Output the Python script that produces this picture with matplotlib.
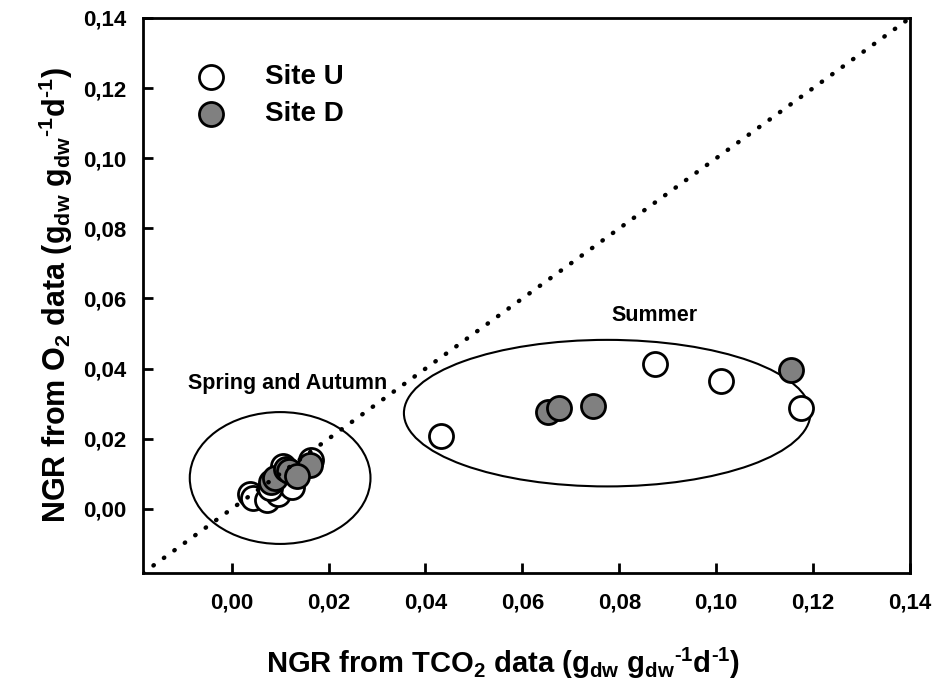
import numpy as np
import matplotlib.pyplot as plt
from matplotlib.patches import Ellipse

plt.rcParams['font.family'] = ['Liberation Sans', 'DejaVu Sans']
plt.rcParams['font.weight'] = 'bold'
plt.rcParams['mathtext.fontset'] = 'custom'
plt.rcParams['mathtext.rm'] = 'Liberation Sans:bold'
plt.rcParams['mathtext.bf'] = 'Liberation Sans:bold'
plt.rcParams['mathtext.it'] = 'Liberation Sans:bold'
plt.rcParams['mathtext.default'] = 'bf'

# NGR from TCO2 (x) vs NGR from O2 (y)
site_u_x = [0.0037, 0.0045, 0.0072, 0.0095, 0.0125, 0.0163, 0.0105, 0.0080,
            0.0432, 0.0874, 0.1010, 0.1175]
site_u_y = [0.0043, 0.0030, 0.0024, 0.0043, 0.0062, 0.0138, 0.0122, 0.0060,
            0.0209, 0.0413, 0.0365, 0.0289]
site_d_x = [0.0082, 0.0090, 0.0112, 0.0118, 0.0162, 0.0135,
            0.0652, 0.0676, 0.0745, 0.1155]
site_d_y = [0.0078, 0.0088, 0.0115, 0.0108, 0.0125, 0.0095,
            0.0277, 0.0289, 0.0292, 0.0397]

ticks = [0.00, 0.02, 0.04, 0.06, 0.08, 0.10, 0.12, 0.14]
tick_labels = ['0,00', '0,02', '0,04', '0,06', '0,08', '0,10', '0,12', '0,14']
lo, hi = -0.0183, 0.14

fig = plt.figure(figsize=(9.39, 6.87), dpi=100)
ax = fig.add_axes([0.1523, 0.1659, 0.8168, 0.8079])

ax.scatter(site_u_x, site_u_y, s=300, facecolor='white', edgecolor='black',
           linewidth=2, zorder=3, label='Site U')
ax.scatter(site_d_x, site_d_y, s=300, facecolor='#808080', edgecolor='black',
           linewidth=2, zorder=3, label='Site D')

# 1:1 line
ax.plot([lo, hi], [lo, hi], color='black', lw=3.2, linestyle=(0, (0.1, 2.8)),
        dash_capstyle='round', zorder=4)

# season groupings
ax.add_patch(Ellipse((0.0100, 0.0088), 0.0373, 0.0376, fill=False,
                     edgecolor='black', lw=1.5, zorder=2))
ax.add_patch(Ellipse((0.0775, 0.0273), 0.0839, 0.0418, fill=False,
                     edgecolor='black', lw=1.5, zorder=2))
ax.text(-0.0091, 0.0342, 'Spring and Autumn', ha='left', va='baseline',
        fontsize=15.5, fontweight='bold')
ax.text(0.0872, 0.0535, 'Summer', ha='center', va='baseline',
        fontsize=15.5, fontweight='bold')

ax.set_xlim(lo, hi)
ax.set_ylim(lo, hi)
ax.set_xticks(ticks)
ax.set_xticklabels(tick_labels)
ax.set_yticks(ticks)
ax.set_yticklabels(tick_labels)
ax.tick_params(direction='in', length=7, width=2, labelsize=16)
ax.tick_params(axis='x', pad=14)
ax.tick_params(axis='y', pad=12)
for sp in ax.spines.values():
    sp.set_linewidth(2)

unit = r'(g$_{dw}$ g$_{dw}$$^{\text{-1}}$d$^{\text{-1}}$)'
ax.set_xlabel(r'NGR from TCO$_2$ data ' + unit, fontsize=21, fontweight='bold')
ax.xaxis.set_label_coords(0.47, -0.131)
ax.set_ylabel(r'NGR from O$_2$ data ' + unit, fontsize=22, fontweight='bold',
              labelpad=6)

ax.legend(loc='upper left', bbox_to_anchor=(0.038, 0.937), frameon=False,
          handletextpad=0.95, labelspacing=0.4, borderaxespad=0,
          prop={'weight': 'bold', 'size': 20})

fig.savefig('out.png', dpi=100)
